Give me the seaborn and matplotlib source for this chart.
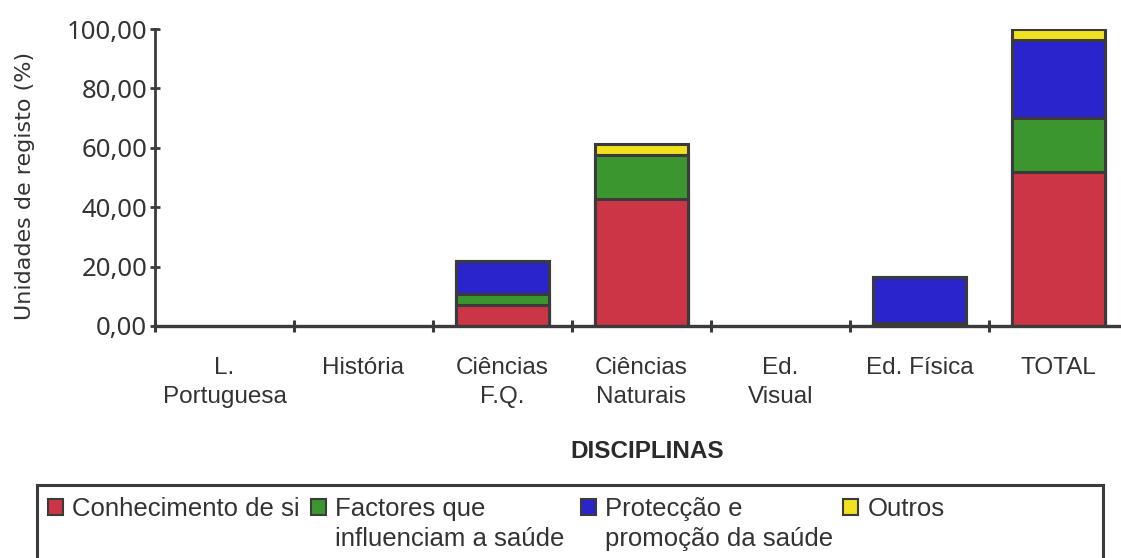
import matplotlib
matplotlib.use("Agg")
import matplotlib.pyplot as plt
from matplotlib.patches import Rectangle, Patch
import numpy as np
import pandas as pd
import seaborn as sns

# Units of record (%) per school subject, split by health theme
disciplinas = ["L.\nPortuguesa", "História", "Ciências\nF.Q.", "Ciências\nNaturais",
               "Ed.\nVisual", "Ed. Física", "TOTAL"]
conhecimento = [0.0, 0.0, 7.0, 42.7, 0.0, 1.0, 51.9]
factores = [0.0, 0.0, 3.8, 14.9, 0.0, 0.0, 18.1]
proteccao = [0.0, 0.0, 11.2, 0.0, 0.0, 15.5, 26.3]
outros = [0.0, 0.0, 0.0, 3.8, 0.0, 0.0, 3.7]

series_names = ["Conhecimento de si", "Factores que\ninfluenciam a saúde",
                "Protecção e\npromoção da saúde", "Outros"]
series_colors = ["#cc3545", "#3c9630", "#2a24cc", "#f0e21e"]

yticks = [0, 20, 40, 60, 80, 100]
ytick_labels = ["0,00", "20,00", "40,00", "60,00", "80,00", "100,00"]
xlabel = "DISCIPLINAS"
ylabel = "Unidades de registo (%)"

W, H = 1121, 558
EDGE = "#3b3b3b"
TEXT = "#333333"

sns.set_style("white")
plt.rcParams["font.family"] = ["Liberation Sans", "DejaVu Sans"]

fig = plt.figure(figsize=(W / 100, H / 100), dpi=100)
fig.patch.set_facecolor("white")


def fx(px):
    return px / W


def fy(py):
    return 1 - py / H


ax = fig.add_axes([fx(155), fy(326), 973 / W, 297 / H])

df = pd.DataFrame({
    "disciplina": disciplinas,
    "c1": conhecimento,
    "c2": factores,
    "c3": proteccao,
    "c4": outros,
})
cols = ["c1", "c2", "c3", "c4"]
cum = df[cols].cumsum(axis=1)

# stacked look: draw cumulative heights from the tallest layer down
for i in range(len(cols) - 1, -1, -1):
    tmp = pd.DataFrame({"disciplina": disciplinas, "valor": cum[cols[i]]})
    sns.barplot(data=tmp, x="disciplina", y="valor", order=disciplinas,
                color=series_colors[i], saturation=1, width=0.676,
                edgecolor=EDGE, linewidth=2.2, errorbar=None, ax=ax)

# hide outlines of empty bars so the baseline stays clean
for p in ax.patches:
    if p.get_height() <= 0:
        p.set_linewidth(0)

ax.set_ylim(0, 100)
ax.set_xlim(-0.5, len(disciplinas) - 0.5)

for side in ["top", "right"]:
    ax.spines[side].set_visible(False)
for side in ["left", "bottom"]:
    ax.spines[side].set_color(EDGE)
ax.spines["left"].set_linewidth(2.0)
ax.spines["bottom"].set_linewidth(2.4)
ax.spines["bottom"].set_zorder(5)

ax.set_yticks(yticks)
ax.set_yticklabels(ytick_labels, fontsize=18.5, family=["Noto Sans", "DejaVu Sans"],
                   color=TEXT)
ax.tick_params(axis="y", direction="inout", length=7, width=2, color=EDGE, pad=2, left=True)

ax.set_xticks(np.arange(len(disciplinas)))
ax.set_xticklabels(disciplinas, fontsize=17.5, color=TEXT, linespacing=1.45)
ax.tick_params(axis="x", which="major", length=0, pad=22, bottom=True)
ax.set_xticks(np.arange(len(disciplinas)) - 0.5, minor=True)
ax.tick_params(axis="x", which="minor", direction="inout", length=9, width=2.2,
               color=EDGE, bottom=True)

ax.set_xlabel("")
ax.set_ylabel(ylabel, fontsize=16, family=["DejaVu Sans"], color=TEXT)
ax.yaxis.set_label_coords(-0.123, 0.47)

fig.text(fx(647), fy(452), xlabel, fontsize=17.5, fontweight="bold",
         ha="center", va="center", color="#2a2a2a")

# legend frame along the bottom
fig.patches.append(Rectangle((fx(37), fy(570)), fx(1103) - fx(37), fy(485) - fy(570),
                             transform=fig.transFigure, fill=False,
                             edgecolor=EDGE, linewidth=2.2))

LEG_FS = 18.5
legend_x = [48, 311, 581, 843]
legends = []
for name, color, x0 in zip(series_names, series_colors, legend_x):
    first = name.split("\n")[0]
    h = Patch(facecolor=color, edgecolor=EDGE, linewidth=1.5)
    leg = fig.legend(handles=[h], labels=[first], loc="upper left",
                     bbox_to_anchor=(fx(x0), fy(497)), frameon=False,
                     fontsize=LEG_FS, handlelength=0.6, handleheight=0.6,
                     handletextpad=0.35, borderpad=0, borderaxespad=0)
    leg.get_texts()[0].set_color(TEXT)
    legends.append((leg, name))

# continuation lines of the two-line entries, aligned under their first line
fig.canvas.draw()
for leg, name in legends:
    parts = name.split("\n")
    if len(parts) < 2:
        continue
    t = leg.get_texts()[0]
    bx, by = t.get_transform().transform(t.get_position())
    for k, line in enumerate(parts[1:], start=1):
        fig.text(bx / W, (by - 30 * k) / H, line, fontsize=LEG_FS, color=TEXT,
                 ha="left", va="baseline")

fig.savefig("out.png", dpi=100, facecolor="white")
